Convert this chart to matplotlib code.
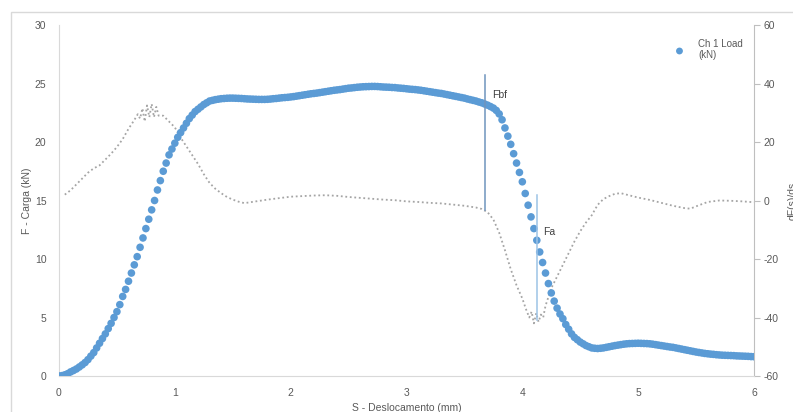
import numpy as np
import matplotlib.pyplot as plt
from matplotlib.patches import Rectangle

# Ch 1 Load (kN), every 0.025 mm from 0 to 6 mm
load_f = [0.0, 0.03, 0.1, 0.2, 0.35, 0.47, 0.6, 0.77,
          0.95, 1.15, 1.4, 1.7, 2.0, 2.4, 2.8, 3.2,
          3.6, 4.05, 4.5, 5.0, 5.5, 6.1, 6.8, 7.4,
          8.1, 8.8, 9.5, 10.2, 11.0, 11.8, 12.6, 13.4,
          14.2, 15.0, 15.9, 16.7, 17.5, 18.2, 18.9, 19.4,
          19.9, 20.4, 20.8, 21.2, 21.6, 22.0, 22.3, 22.6,
          22.8, 23.0, 23.2, 23.35, 23.5, 23.56, 23.62, 23.66,
          23.7, 23.72, 23.74, 23.75, 23.75, 23.74, 23.73, 23.72,
          23.7, 23.68, 23.67, 23.66, 23.65, 23.64, 23.64, 23.64,
          23.65, 23.67, 23.7, 23.72, 23.75, 23.78, 23.8, 23.82,
          23.85, 23.88, 23.92, 23.96, 24.0, 24.04, 24.08, 24.12,
          24.15, 24.18, 24.22, 24.26, 24.3, 24.34, 24.38, 24.42,
          24.45, 24.48, 24.52, 24.56, 24.6, 24.62, 24.65, 24.68,
          24.7, 24.72, 24.73, 24.74, 24.75, 24.75, 24.74, 24.72,
          24.7, 24.69, 24.68, 24.66, 24.65, 24.62, 24.6, 24.58,
          24.55, 24.52, 24.5, 24.48, 24.45, 24.42, 24.38, 24.34,
          24.3, 24.26, 24.22, 24.18, 24.15, 24.1, 24.05, 24.0,
          23.95, 23.9, 23.85, 23.8, 23.75, 23.68, 23.62, 23.56,
          23.5, 23.42, 23.35, 23.25, 23.15, 23.03, 22.9, 22.7,
          22.4, 21.9, 21.2, 20.5, 19.8, 19.0, 18.2, 17.4,
          16.6, 15.6, 14.6, 13.6, 12.6, 11.6, 10.6, 9.7,
          8.8, 7.9, 7.1, 6.4, 5.8, 5.3, 4.9, 4.4,
          4.0, 3.6, 3.3, 3.1, 2.9, 2.75, 2.6, 2.5,
          2.4, 2.37, 2.35, 2.37, 2.4, 2.45, 2.5, 2.55,
          2.6, 2.64, 2.68, 2.72, 2.75, 2.77, 2.78, 2.79,
          2.8, 2.79, 2.78, 2.77, 2.75, 2.72, 2.68, 2.64,
          2.6, 2.56, 2.52, 2.48, 2.45, 2.4, 2.35, 2.3,
          2.25, 2.2, 2.15, 2.1, 2.05, 2.01, 1.97, 1.93,
          1.9, 1.87, 1.85, 1.82, 1.8, 1.78, 1.77, 1.76,
          1.75, 1.74, 1.72, 1.71, 1.7, 1.69, 1.68, 1.66,
          1.65]
load_s = np.round(np.arange(len(load_f)) * 0.025, 3)

# dF(s)/ds (right axis)
der_s = [0.05, 0.10, 0.15, 0.20, 0.25, 0.30, 0.35, 0.40, 0.45, 0.50, 0.55, 0.60,
         0.65, 0.68, 0.70, 0.72, 0.74, 0.76, 0.78, 0.80, 0.82, 0.84, 0.86, 0.90,
         0.95, 1.00, 1.05, 1.10, 1.15, 1.20, 1.25, 1.30, 1.35, 1.40, 1.45, 1.50,
         1.55, 1.60, 1.70, 1.80, 1.90, 2.00, 2.10, 2.20, 2.30, 2.40, 2.50, 2.60,
         2.70, 2.80, 2.90, 3.00, 3.10, 3.20, 3.30, 3.40, 3.50, 3.60, 3.65, 3.70,
         3.75, 3.80, 3.85, 3.90, 3.95, 4.00, 4.03, 4.06, 4.08, 4.10, 4.12, 4.14,
         4.16, 4.18, 4.20, 4.25, 4.30, 4.35, 4.40, 4.45, 4.50, 4.55, 4.60, 4.65,
         4.70, 4.75, 4.80, 4.85, 4.90, 5.00, 5.10, 5.20, 5.30, 5.40, 5.45, 5.50,
         5.60, 5.70, 5.80, 5.90, 6.00]
der_v = [2.0, 3.5, 5.5, 7.5, 9.5, 11.0, 12.0, 14.0, 16.0, 18.3, 21.0, 24.5,
         27.5, 29.5, 28.0, 31.5, 27.0, 32.5, 28.5, 33.0, 28.5, 32.0, 29.0, 29.0,
         27.0, 25.0, 21.5, 18.5, 15.5, 12.5, 9.0, 6.0, 4.0, 2.5, 1.2, 0.3,
         -0.4, -0.9, -0.3, 0.3, 0.8, 1.3, 1.5, 1.7, 1.8, 1.6, 1.2, 0.9,
         0.6, 0.3, 0.1, -0.3, -0.5, -0.8, -1.0, -1.4, -1.8, -2.4, -2.9, -4.0,
         -6.5, -11.0, -17.0, -23.5, -29.0, -33.5, -37.0, -40.0, -38.0, -42.0, -38.5, -41.5,
         -39.0, -40.0, -36.0, -30.0, -26.0, -22.0, -18.0, -14.0, -10.5, -7.5, -5.0, -1.5,
         0.5, 1.5, 2.3, 2.5, 2.0, 1.0, 0.2, -0.8, -1.8, -2.6, -2.8, -2.0,
         -0.5, 0.0, -0.1, -0.3, -0.6]

# marker lines for Fbf and Fa
mark_names = ["Fbf", "Fa"]
mark_s = [3.68, 4.13]
mark_lo = [14.2, 4.8]
mark_hi = [25.7, 15.5]
label_pos = [(3.74, 24.0), (4.18, 12.3)]

BLUE = "#5b9bd5"
GRAY = "#595959"

plt.rcParams["font.family"] = ["Liberation Sans", "DejaVu Sans"]
plt.rcParams["axes.unicode_minus"] = False

fig = plt.figure(figsize=(7.93, 4.12), dpi=100)
fig.patches.append(Rectangle((11 / 793, -0.1), 1.0, 0.971 + 0.1, transform=fig.transFigure,
                             fill=False, edgecolor="#d9d9d9", lw=1))
ax = fig.add_axes([59 / 793, 1 - 376 / 412, (754 - 59) / 793, (376 - 25) / 412])
ax2 = ax.twinx()

ax2.plot(der_s, der_v, color="#a5a5a5", lw=1.3, linestyle=(0, (1, 1.5)))
ax.set_zorder(ax2.get_zorder() + 1)
ax.patch.set_visible(False)

ax.scatter(load_s, load_f, s=30, color=BLUE, edgecolors="none", zorder=3,
           label="Ch 1 Load\n(kN)")
line_cols = ["#6f94bd", "#9dc3e6"]
for s, lo, hi, c in zip(mark_s, mark_lo, mark_hi, line_cols):
    ax.plot([s, s], [lo, hi], color=c, lw=1.1, zorder=4)
for name, (tx, ty) in zip(mark_names, label_pos):
    ax.text(tx, ty, name, fontsize=7.5, color="#404040", va="center")

ax.set_xlim(0, 6)
ax.set_ylim(0, 30)
ax2.set_ylim(-60, 60)
ax.set_xticks(range(0, 7))
ax.set_yticks(range(0, 31, 5))
ax2.set_yticks(range(-60, 61, 20))

for a in (ax, ax2):
    for sp in a.spines.values():
        sp.set_visible(False)
ax.spines["left"].set_visible(True)
ax.spines["left"].set_color("#d9d9d9")
ax.spines["bottom"].set_visible(True)
ax.spines["bottom"].set_color("#d9d9d9")
ax2.spines["right"].set_visible(True)
ax2.spines["right"].set_color("#bfbfbf")

ax.tick_params(axis="x", length=0, labelsize=7.5, labelcolor=GRAY, pad=9)
ax.tick_params(axis="y", length=0, labelsize=7.5, labelcolor=GRAY, pad=9)
ax2.tick_params(axis="y", length=4, color="#bfbfbf", labelsize=7.5, labelcolor=GRAY, pad=3)

ax.set_xlabel("S - Deslocamento (mm)", fontsize=7.5, color=GRAY, labelpad=3)
ax.set_ylabel("F - Carga (kN)", fontsize=7.5, color=GRAY, labelpad=2)
ax2.set_ylabel("dF(s)/ds", fontsize=7.5, color=GRAY, labelpad=6)

ax.legend(loc="upper left", bbox_to_anchor=(661 / 793, 1 - 30 / 412),
          bbox_transform=fig.transFigure, frameon=False, fontsize=7,
          handletextpad=0.9, labelcolor=GRAY, scatterpoints=1, markerscale=0.9)

fig.savefig("out.png", dpi=100)
